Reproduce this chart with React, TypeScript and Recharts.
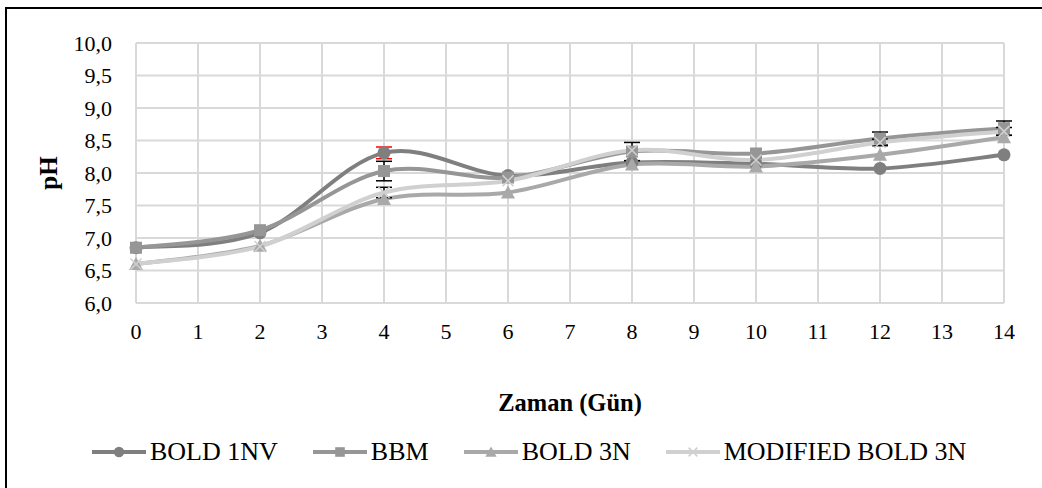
import React from 'react';
import { CartesianGrid, ErrorBar, Legend, Line, LineChart, XAxis, YAxis } from 'recharts';

const days = [0, 2, 4, 6, 8, 10, 12, 14];
const bold1nv = [6.85, 7.08, 8.31, 7.96, 8.16, 8.14, 8.07, 8.28];
const bbm = [6.85, 7.12, 8.03, 7.93, 8.33, 8.3, 8.53, 8.69];
const bold3n = [6.6, 6.88, 7.6, 7.7, 8.13, 8.1, 8.28, 8.55];
const modBold3n = [6.6, 6.87, 7.7, 7.88, 8.35, 8.2, 8.47, 8.64];

// only the bars that show past the markers in the original
const bold1nvErr = [null, null, 0.09, null, null, null, null, null];
const bbmErr = [null, null, 0.15, null, 0.14, null, 0.1, 0.11];
const bold3nErr = [null, null, null, null, null, null, null, null];
const modBold3nErr = [null, null, 0.08, null, null, null, 0.05, 0.06];

const xTicks = [0, 1, 2, 3, 4, 5, 6, 7, 8, 9, 10, 11, 12, 13, 14];
const yTicks = [6, 6.5, 7, 7.5, 8, 8.5, 9, 9.5, 10];

const data = days.map((d, i) => ({
  day: d,
  bold1nv: bold1nv[i],
  bbm: bbm[i],
  bold3n: bold3n[i],
  modBold3n: modBold3n[i],
  bold1nvErr: bold1nvErr[i],
  bbmErr: bbmErr[i],
  bold3nErr: bold3nErr[i],
  modBold3nErr: modBold3nErr[i],
}));

const FONT = '"Liberation Serif", "Times New Roman", Times';

// Excel-like smoothing (Catmull-Rom as cubic bezier)
const excelSmooth = (context: any) => {
  let pts: number[][] = [];
  return {
    areaStart() {},
    areaEnd() {},
    lineStart() {
      pts = [];
    },
    point(x: number, y: number) {
      pts.push([+x, +y]);
    },
    lineEnd() {
      const n = pts.length;
      if (!n) return;
      context.moveTo(pts[0][0], pts[0][1]);
      const t = 1 / 6;
      for (let i = 0; i < n - 1; i++) {
        const p0 = pts[Math.max(i - 1, 0)];
        const p1 = pts[i];
        const p2 = pts[i + 1];
        const p3 = pts[Math.min(i + 2, n - 1)];
        context.bezierCurveTo(
          p1[0] + (p2[0] - p0[0]) * t,
          p1[1] + (p2[1] - p0[1]) * t,
          p2[0] - (p3[0] - p1[0]) * t,
          p2[1] - (p3[1] - p1[1]) * t,
          p2[0],
          p2[1]
        );
      }
    },
  };
};

type Shape = 'circle' | 'square' | 'triangle' | 'cross';

function Marker({ shape, cx, cy, color, size = 1 }: { shape: Shape; cx: number; cy: number; color: string; size?: number }) {
  if (shape === 'circle') return <circle cx={cx} cy={cy} r={6.5 * size} fill={color} />;
  if (shape === 'square') {
    const s = 6 * size;
    return <rect x={cx - s} y={cy - s} width={s * 2} height={s * 2} fill={color} />;
  }
  if (shape === 'triangle') {
    const s = 7 * size;
    return <path d={`M${cx},${cy - s}L${cx + s},${cy + s * 0.85}L${cx - s},${cy + s * 0.85}Z`} fill={color} />;
  }
  const s = 5.5 * size;
  return (
    <path d={`M${cx - s},${cy - s}L${cx + s},${cy + s}M${cx - s},${cy + s}L${cx + s},${cy - s}`} stroke={color} strokeWidth={1.6} fill="none" />
  );
}

const series = [
  { key: 'bold1nv', name: 'BOLD 1NV', color: '#7f7f7f', shape: 'circle' as Shape, err: 'bold1nvErr', errColor: '#ff0000' },
  { key: 'bbm', name: 'BBM', color: '#969696', shape: 'square' as Shape, err: 'bbmErr', errColor: '#000000' },
  { key: 'bold3n', name: 'BOLD 3N', color: '#a9a9a9', shape: 'triangle' as Shape, err: 'bold3nErr', errColor: '#000000' },
  { key: 'modBold3n', name: 'MODIFIED BOLD 3N', color: '#d0d0d0', shape: 'cross' as Shape, err: 'modBold3nErr', errColor: '#000000' },
];

function LegendContent() {
  return (
    <div style={{ display: 'flex', alignItems: 'center', gap: 35, paddingLeft: 92, fontFamily: FONT, fontSize: 26, color: '#000' }}>
      {series.map((s) => (
        <div key={s.key} style={{ display: 'flex', alignItems: 'center' }}>
          <svg width={56} height={20}>
            <line x1={0} y1={10} x2={54} y2={10} stroke={s.color} strokeWidth={4} />
            <Marker shape={s.shape} cx={27} cy={10} color={s.color} size={0.8} />
          </svg>
          <span style={{ marginLeft: 2 }}>{s.name}</span>
        </div>
      ))}
    </div>
  );
}

export default function App() {
  return (
    <div style={{ position: 'fixed', left: 0, top: 0, width: 1042, height: 488, overflow: 'hidden', background: '#fff' }}>
      <div style={{ position: 'absolute', left: 5, top: 7, width: 1200, height: 700, border: '2px solid #000' }} />
      <LineChart width={1042} height={488} data={data} margin={{ top: 43, right: 38, bottom: 0, left: 0 }}>
        <CartesianGrid stroke="#d9d9d9" strokeWidth={2} />
        <XAxis
          dataKey="day"
          type="number"
          domain={[0, 14]}
          ticks={xTicks}
          interval={0}
          axisLine={false}
          tickLine={false}
          tickSize={6}
          tickMargin={14}
          height={155}
          tick={{ fill: '#000', fontSize: 22, fontFamily: FONT }}
          label={({ viewBox }: any) => (
            <text x={viewBox.x + viewBox.width / 2} y={viewBox.y + 108} textAnchor="middle" fontFamily={FONT} fontWeight="bold" fontSize={24.5} fill="#000">
              Zaman (Gün)
            </text>
          )}
        />
        <YAxis
          type="number"
          domain={[6, 10]}
          ticks={yTicks}
          interval={0}
          width={136}
          axisLine={false}
          tickLine={false}
          tickSize={6}
          tickMargin={18}
          tickFormatter={(v: number) => v.toFixed(1).replace('.', ',')}
          tick={{ fill: '#000', fontSize: 22, fontFamily: FONT }}
          label={({ viewBox }: any) => (
            <text
              x={48}
              y={viewBox.y + viewBox.height / 2}
              textAnchor="middle"
              dominantBaseline="central"
              transform={`rotate(-90, 48, ${viewBox.y + viewBox.height / 2})`}
              fontFamily={FONT}
              fontWeight="bold"
              fontSize={25}
              fill="#000"
            >
              pH
            </text>
          )}
        />
        <Legend content={<LegendContent />} wrapperStyle={{ position: 'absolute', left: 0, top: 437, width: 1042 }} />
        {series.map((s) => (
          <Line
            key={s.key}
            dataKey={s.key}
            name={s.name}
            type={excelSmooth as any}
            stroke={s.color}
            strokeWidth={4}
            isAnimationActive={false}
            dot={(p: any) => <Marker key={`${s.key}-${p.index}`} shape={s.shape} cx={p.cx} cy={p.cy} color={s.color} />}
            activeDot={false}
          >
            <ErrorBar dataKey={s.err} direction="y" width={8} stroke={s.errColor} strokeWidth={1.5} isAnimationActive={false} />
          </Line>
        ))}
      </LineChart>
    </div>
  );
}
